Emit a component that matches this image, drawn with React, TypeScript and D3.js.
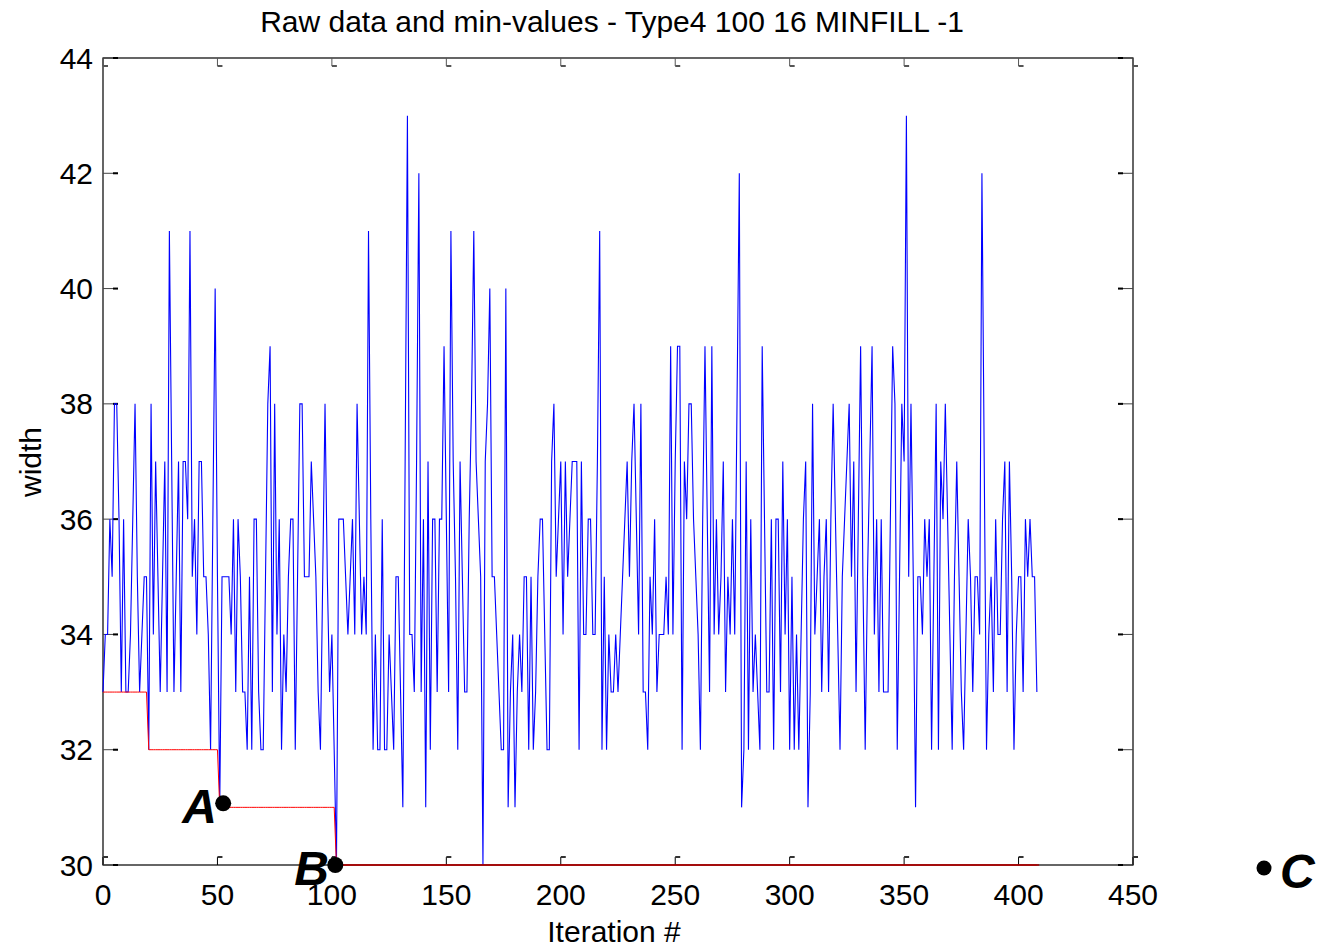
import React from "react";
import * as d3 from "d3";

// Raw width value per iteration (index = iteration #)
const rawWidth: number[] = [
  33,34,34,36,35,38,38,36,33,36,33,33,34,36,38,35,33,34,35,35,32,38,34,37,35,33,35,37,33,41,37,33,35,37,33,37,37,36,41,35,36,
  34,37,37,35,35,34,32,36,40,35,31,35,35,35,35,34,36,33,36,35,33,33,32,35,32,36,36,33,32,32,35,38,39,33,38,34,36,32,34,33,35,
  36,36,32,35,38,38,35,35,35,37,36,35,33,32,35,38,35,33,34,32,30,36,36,36,35,34,35,36,34,38,36,34,35,34,41,36,32,34,32,32,36,
  32,32,34,33,32,35,35,33,31,37,43,34,34,33,37,42,33,36,31,37,32,36,36,33,36,36,39,36,33,41,37,35,32,37,35,33,33,36,38,41,37,36,35,
  30,37,38,40,35,35,34,33,32,32,40,31,33,34,31,33,34,33,35,35,32,35,32,33,35,36,36,34,32,32,37,38,35,36,37,34,37,35,36,37,
  37,37,32,37,34,34,36,36,34,34,37,41,32,35,32,34,33,33,34,33,34,35,36,37,35,37,38,36,34,38,33,33,32,35,34,36,33,34,34,34,35,34,
  39,34,37,39,39,32,37,36,38,38,36,35,34,32,36,39,36,33,39,34,36,34,35,37,33,35,34,36,34,38,42,31,32,37,32,36,33,34,33,32,39,
  36,33,33,36,32,36,36,33,37,34,36,32,35,32,34,32,34,36,37,31,33,38,34,35,36,33,35,36,33,36,38,36,34,32,35,36,37,38,35,37,33,36,
  39,35,32,35,37,39,34,36,33,36,33,33,33,36,39,38,32,35,38,37,43,35,38,35,31,35,35,34,36,35,36,32,35,38,32,37,36,38,36,34,32,35,
  37,35,33,32,34,36,35,33,35,35,34,42,37,32,34,35,33,36,34,34,36,37,33,37,35,32,34,35,35,33,36,35,36,35,35,33,
];

const xTicks: number[] = [0, 50, 100, 150, 200, 250, 300, 350, 400, 450];
const yTicks: number[] = [30, 32, 34, 36, 38, 40, 42, 44];

const titleText = "Raw data and min-values - Type4 100 16 MINFILL -1";
const xLabel = "Iteration #";
const yLabel = "width";

// Annotated points: label, iteration, value
const markers = [
  { label: "A", x: 52.5, y: 31.07 },
  { label: "B", x: 101.5, y: 30 },
];

const W = 1320;
const H = 946;
const M = { left: 103, right: 1133, top: 58, bottom: 865 };
const FONT = "'Liberation Sans', Arial, Helvetica, sans-serif";
const FS = 30;

export default function App() {
  const x = d3.scaleLinear().domain([0, 450]).range([M.left, M.right]);
  const y = d3.scaleLinear().domain([30, 44]).range([M.bottom, M.top]);

  const minValues: number[] = [];
  let cur = Infinity;
  rawWidth.forEach((v) => {
    cur = Math.min(cur, v);
    minValues.push(cur);
  });

  const line = d3
    .line<number>()
    .x((_, i) => x(i))
    .y((d) => y(d));

  return (
    <div style={{ position: "absolute", left: 0, top: 0 }}>
      <svg width={W} height={H} style={{ display: "block", background: "#fff" }} fontFamily={FONT}>
        <rect x={0} y={0} width={W} height={H} fill="#fff" />
        {/* box */}
        <rect
          x={M.left}
          y={M.top}
          width={M.right - M.left}
          height={M.bottom - M.top}
          fill="none"
          stroke="#000"
          strokeWidth={1.2}
        />
        {/* x ticks (bottom and top) */}
        {xTicks.map((t) => (
          <g key={"xt" + t}>
            <line x1={x(t)} x2={x(t)} y1={M.bottom} y2={M.bottom - 8} stroke="#000" strokeWidth={1} />
            <line x1={x(t)} x2={x(t) + 5} y1={M.bottom - 8} y2={M.bottom - 8} stroke="#333" strokeWidth={2} />
            <line x1={x(t)} x2={x(t)} y1={M.top} y2={M.top + 8} stroke="#555" strokeWidth={1} />
            <line x1={x(t)} x2={x(t) + 5} y1={M.top + 8} y2={M.top + 8} stroke="#555" strokeWidth={2} />
            <text x={x(t)} y={905} fontSize={FS} textAnchor="middle" fill="#000">
              {t}
            </text>
          </g>
        ))}
        {/* y ticks (left and right) */}
        {yTicks.map((t) => (
          <g key={"yt" + t}>
            <line x1={M.left} x2={M.left + 15} y1={y(t)} y2={y(t)} stroke="#444" strokeWidth={1} />
            <line x1={M.left + 10} x2={M.left + 15} y1={y(t)} y2={y(t)} stroke="#000" strokeWidth={2} />
            <line x1={M.right} x2={M.right - 15} y1={y(t)} y2={y(t)} stroke="#444" strokeWidth={1} />
            <line x1={M.right - 15} x2={M.right - 10} y1={y(t)} y2={y(t)} stroke="#000" strokeWidth={2} />
            <text x={93} y={y(t) + 10.5} fontSize={FS} textAnchor="end" fill="#000">
              {t}
            </text>
          </g>
        ))}
        {/* raw data */}
        <path d={line(rawWidth) || ""} fill="none" stroke="#0000ff" strokeWidth={1.1} />
        {/* min values */}
        <path d={line(minValues) || ""} fill="none" stroke="#ff0000" strokeWidth={1} />
        <line x1={x(102)} x2={x(rawWidth.length)} y1={y(30)} y2={y(30)} stroke="#a00000" strokeWidth={1.6} />

        {/* title and labels */}
        <text x={612} y={32} fontSize={FS} textAnchor="middle" fill="#000">
          {titleText}
        </text>
        <text x={614} y={942} fontSize={FS} textAnchor="middle" fill="#000">
          {xLabel}
        </text>
        <text transform="translate(41,462) rotate(-90)" fontSize={FS} textAnchor="middle" fill="#000">
          {yLabel}
        </text>

        {/* annotation markers */}
        {markers.map((m) => (
          <g key={m.label}>
            <circle cx={x(m.x)} cy={y(m.y)} r={8} fill="#000" />
            <text
              x={x(m.x) - 41}
              y={y(m.y) + 20}
              fontSize={48}
              fontWeight="bold"
              fontStyle="italic"
              fill="#000"
            >
              {m.label}
            </text>
          </g>
        ))}
        <circle cx={1264} cy={868} r={7.5} fill="#000" />
        <text x={1280} y={888} fontSize={48} fontWeight="bold" fontStyle="italic" fill="#000">
          C
        </text>
      </svg>
    </div>
  );
}
